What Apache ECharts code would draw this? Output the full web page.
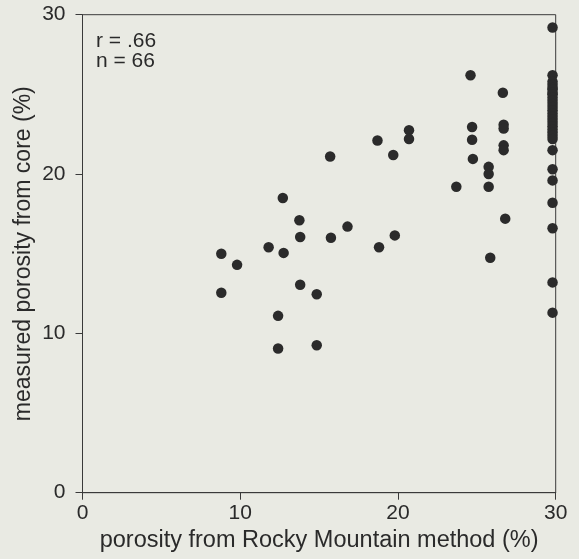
<!DOCTYPE html>
<html>
<head>
<meta charset="utf-8">
<script src="https://cdn.jsdelivr.net/npm/echarts@6/dist/echarts.min.js"></script>
<style>
html,body{margin:0;padding:0;background:#e9eae3;}
#c{width:579px;height:559px;}
</style>
</head>
<body>
<div id="c"></div>
<script>
// porosity from Rocky Mountain method (%)
const xValues = [
  8.8, 9.8, 8.8, 11.8, 12.7, 13.75, 13.8, 12.75, 13.8, 14.85,
  12.4, 12.4, 14.85, 15.7, 15.75, 16.8, 18.7, 18.8, 19.7, 19.8,
  20.7, 20.7, 24.6, 24.7, 24.7, 24.75, 23.7, 25.75, 25.75, 25.75,
  25.85, 26.65, 26.7, 26.7, 26.7, 26.7, 26.8,
  29.8, 29.8, 29.8, 29.8, 29.8, 29.8, 29.8, 29.8, 29.8,
  29.8, 29.8, 29.8, 29.8, 29.8, 29.8, 29.8, 29.8, 29.8, 29.8,
  29.8, 29.8, 29.8, 29.8, 29.8, 29.8, 29.8, 29.8, 29.8, 29.8
];
// measured porosity from core (%)
const yValues = [
  15.0, 14.3, 12.55, 15.4, 18.5, 17.1, 16.05, 15.05, 13.05, 12.45,
  11.1, 9.05, 9.25, 21.1, 16.0, 16.7, 22.1, 15.4, 21.2, 16.15,
  22.75, 22.2, 26.2, 22.95, 22.15, 20.95, 19.2, 20.45, 20.0, 19.2,
  14.75, 25.1, 23.1, 22.85, 21.8, 21.5, 17.2,
  29.2, 26.2, 21.5, 20.3, 19.6, 18.2, 16.6, 13.2, 11.3,
  25.8, 25.6, 25.4, 25.3, 25.1, 25.0, 24.8, 24.6, 24.4, 24.2,
  24.0, 23.8, 23.6, 23.4, 23.2, 23.0, 22.8, 22.6, 22.4, 22.2
];
const xTicks = [0, 10, 20, 30];
const yTicks = [0, 10, 20, 30];
const statLines = ['r = .66', 'n = 66'];

const points = xValues.map((x, i) => [x, yValues[i]]);
const font = 'Liberation Sans, Arial, Helvetica, sans-serif';
const chart = echarts.init(document.getElementById('c'));
chart.setOption({
  backgroundColor: '#e9eae3',
  animation: false,
  grid: {left: 82.5, right: 23.3, top: 14.7, bottom: 66.3, show: true, borderColor: '#3a3a3a', borderWidth: 1, backgroundColor: 'transparent'},
  xAxis: {
    type: 'value', min: xTicks[0], max: xTicks[xTicks.length - 1], interval: 10,
    name: 'porosity from Rocky Mountain method (%)', nameLocation: 'middle', nameGap: 35,
    nameTextStyle: {fontFamily: font, fontSize: 23.5, color: '#2a2a2a'},
    axisLine: {show: true, lineStyle: {color: '#3a3a3a', width: 1}},
    axisTick: {show: true, length: 7, lineStyle: {color: '#3a3a3a'}},
    axisLabel: {fontFamily: font, fontSize: 21, color: '#2a2a2a', margin: 10},
    splitLine: {show: false}
  },
  yAxis: {
    type: 'value', min: yTicks[0], max: yTicks[yTicks.length - 1], interval: 10,
    name: 'measured porosity from core (%)', nameLocation: 'middle', nameGap: 47,
    nameMoveOverlap: false,
    nameTextStyle: {fontFamily: font, fontSize: 23, color: '#2a2a2a'},
    axisLine: {show: true, lineStyle: {color: '#3a3a3a', width: 1}},
    axisTick: {show: true, length: 7, lineStyle: {color: '#3a3a3a'}},
    axisLabel: {fontFamily: font, fontSize: 21, color: '#2a2a2a', margin: 17},
    splitLine: {show: false}
  },
  graphic: [{
    type: 'text', left: 96, top: 31,
    style: {text: statLines.join('\n'), font: '21px ' + font, fill: '#2a2a2a', lineHeight: 20}
  }],
  series: [{
    type: 'scatter', data: points, symbol: 'circle', symbolSize: 10.5,
    itemStyle: {color: '#2b2b2b', opacity: 1}
  }]
});
</script>
</body>
</html>
